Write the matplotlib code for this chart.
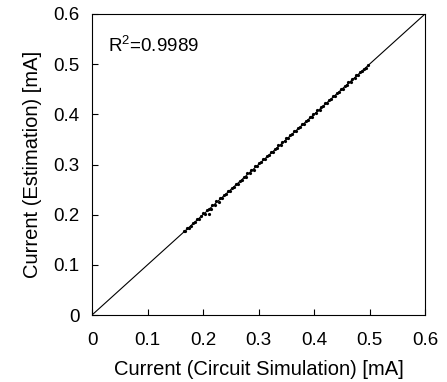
import matplotlib
matplotlib.use('Agg')
import matplotlib.pyplot as plt

# current from circuit simulation vs estimation [mA]
sim = [0.165, 0.168, 0.172, 0.175, 0.179, 0.182, 0.186, 0.189, 0.193, 0.196,
       0.200, 0.203, 0.207, 0.210, 0.214, 0.217, 0.221, 0.224, 0.228, 0.231,
       0.235, 0.238, 0.242, 0.245, 0.249, 0.252, 0.256, 0.259, 0.263, 0.266,
       0.270, 0.273, 0.277, 0.280, 0.284, 0.287, 0.291, 0.294, 0.298, 0.301,
       0.305, 0.308, 0.312, 0.315, 0.319, 0.322, 0.326, 0.329, 0.333, 0.336,
       0.340, 0.343, 0.347, 0.350, 0.354, 0.357, 0.361, 0.364, 0.368, 0.371,
       0.375, 0.378, 0.382, 0.385, 0.389, 0.392, 0.396, 0.399, 0.403, 0.406,
       0.410, 0.413, 0.417, 0.420, 0.424, 0.427, 0.431, 0.434, 0.438, 0.441,
       0.445, 0.448, 0.452, 0.455, 0.459, 0.462, 0.466, 0.469, 0.473, 0.476,
       0.480, 0.483, 0.487, 0.490, 0.494, 0.497, 0.211]
est = [0.167, 0.167, 0.174, 0.174, 0.177, 0.184, 0.185, 0.191, 0.192, 0.198,
       0.203, 0.201, 0.209, 0.212, 0.212, 0.219, 0.220, 0.227, 0.226, 0.233,
       0.234, 0.240, 0.241, 0.247, 0.248, 0.254, 0.255, 0.261, 0.262, 0.268,
       0.269, 0.275, 0.276, 0.283, 0.283, 0.289, 0.290, 0.297, 0.297, 0.303,
       0.304, 0.311, 0.311, 0.317, 0.318, 0.325, 0.325, 0.331, 0.332, 0.339,
       0.339, 0.345, 0.346, 0.353, 0.353, 0.359, 0.360, 0.367, 0.367, 0.373,
       0.374, 0.381, 0.381, 0.387, 0.388, 0.395, 0.395, 0.401, 0.402, 0.408,
       0.409, 0.415, 0.416, 0.422, 0.423, 0.429, 0.430, 0.436, 0.437, 0.443,
       0.444, 0.450, 0.451, 0.457, 0.458, 0.464, 0.465, 0.471, 0.472, 0.478,
       0.479, 0.484, 0.486, 0.491, 0.493, 0.498, 0.202]
ticks = [0, 0.1, 0.2, 0.3, 0.4, 0.5, 0.6]
tick_labels = ['0', '0.1', '0.2', '0.3', '0.4', '0.5', '0.6']
r2_text = "R$^2$=0.9989"

plt.rcParams['font.family'] = ['Liberation Sans', 'DejaVu Sans']
plt.rcParams['mathtext.fontset'] = 'custom'
plt.rcParams['mathtext.rm'] = 'Liberation Sans'

fig = plt.figure(figsize=(4.47, 3.82), dpi=100)
ax = fig.add_axes([92/447, 1 - 315/382, 333/447, 301/382])

ax.plot([0, 0.6], [0, 0.6], color='black', lw=0.8)
ax.plot(sim, est, ls='none', marker='o', ms=2.3, mew=0, color='black')

ax.set_xlim(0, 0.6)
ax.set_ylim(0, 0.6)
ax.set_xticks(ticks)
ax.set_yticks(ticks)
ax.set_xticklabels(tick_labels)
ax.set_yticklabels(tick_labels)
ax.tick_params(direction='in', length=4, labelsize=13.5, top=False, right=False)
ax.tick_params(axis='x', pad=12)
ax.tick_params(axis='y', pad=9)
for s in ax.spines.values():
    s.set_linewidth(0.8)

ax.set_xlabel('Current (Circuit Simulation) [mA]', fontsize=14.5, labelpad=8)
ax.set_ylabel('Current (Estimation) [mA]', fontsize=14.5, labelpad=8)
ax.text(0.028, 0.524, r2_text, fontsize=13.5)

fig.savefig('out.png', dpi=100)
